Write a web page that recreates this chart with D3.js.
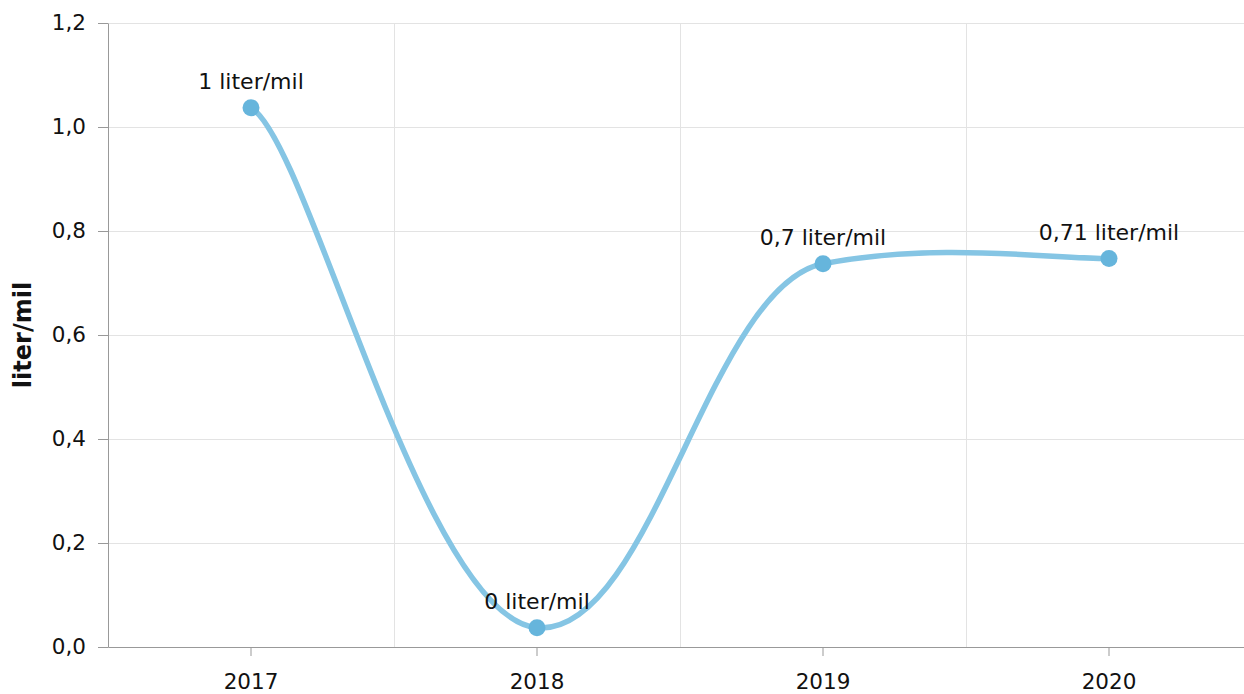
<!DOCTYPE html>
<html>
<head>
<meta charset="utf-8">
<script src="https://cdn.jsdelivr.net/npm/d3@7"></script>
<style>
  html, body { margin: 0; padding: 0; background: #fff; }
  svg { display: block; font-family: "DejaVu Sans", Verdana, sans-serif; }
</style>
</head>
<body>
<svg id="chart" width="1244" height="694"></svg>
<script>
// data
var years = ['2017', '2018', '2019', '2020'];
var values = [1.037, 0.037, 0.737, 0.747];
var pointLabels = ['1 liter/mil', '0 liter/mil', '0,7 liter/mil', '0,71 liter/mil'];
var yTicks = [0, 0.2, 0.4, 0.6, 0.8, 1.0, 1.2];
var yTitle = 'liter/mil';

var margin = { top: 23, right: -8, bottom: 47, left: 108 };
var svg = d3.select('#chart');
var W = +svg.attr('width'), H = +svg.attr('height');
var width = W - margin.left - margin.right;
var height = H - margin.top - margin.bottom;

var x = d3.scaleBand().domain(years).range([0, width]).padding(0);
var y = d3.scaleLinear().domain([0, 1.2]).range([height, 0]);
var fmt = function (d) { return d3.format('.1f')(d).replace('.', ','); };

var g = svg.append('g').attr('transform', 'translate(' + margin.left + ',' + margin.top + ')');

//-------------------------------
// grid
g.append('g').selectAll('line.hgrid')
  .data(yTicks).enter().append('line')
  .attr('class', 'hgrid')
  .attr('x1', 0).attr('x2', width)
  .attr('y1', function (d) { return Math.round(y(d)) + 0.5; })
  .attr('y2', function (d) { return Math.round(y(d)) + 0.5; })
  .style('stroke', '#e3e3e3').style('stroke-width', 1);

g.append('g').selectAll('line.vgrid')
  .data(years.slice(1)).enter().append('line')
  .attr('class', 'vgrid')
  .attr('x1', function (d) { return Math.round(x(d)) + 0.5; })
  .attr('x2', function (d) { return Math.round(x(d)) + 0.5; })
  .attr('y1', 0).attr('y2', height)
  .style('stroke', '#e3e3e3').style('stroke-width', 1);

//-------------------------------
// axes
var yAxis = g.append('g')
  .call(d3.axisLeft(y).tickValues(yTicks).tickFormat(fmt).tickSize(10).tickPadding(12).tickSizeOuter(0));
var xAxis = g.append('g')
  .attr('transform', 'translate(0,' + height + ')')
  .call(d3.axisBottom(x).tickSize(9).tickPadding(18).tickSizeOuter(0));

[yAxis, xAxis].forEach(function (ax) {
  ax.select('.domain').style('stroke', '#999');
  ax.selectAll('.tick line').style('stroke', '#999');
  ax.selectAll('.tick text')
    .style('font-family', '"DejaVu Sans", Verdana, sans-serif')
    .style('font-size', '21.5px').style('fill', '#111');
});

svg.append('text')
  .attr('transform', 'translate(' + 31 + ',' + (margin.top + height / 2) + ') rotate(-90)')
  .attr('text-anchor', 'middle')
  .style('font-size', '24px').style('font-weight', 'bold').style('fill', '#111')
  .text(yTitle);

//-------------------------------
// tension curve, separate x / y tension
var tx = 0.2, ty = 0.06;
function TensionCurve(context) { this._context = context; }
TensionCurve.prototype = {
  areaStart: function () {}, areaEnd: function () {},
  lineStart: function () { this._pts = []; },
  point: function (px, py) { this._pts.push([+px, +py]); },
  lineEnd: function () {
    var p = this._pts, c = this._context, n = p.length;
    c.moveTo(p[0][0], p[0][1]);
    for (var i = 0; i < n - 1; i++) {
      var p0 = p[Math.max(0, i - 1)], p1 = p[i], p2 = p[i + 1], p3 = p[Math.min(n - 1, i + 2)];
      c.bezierCurveTo(
        p1[0] + tx * (p2[0] - p0[0]), p1[1] + ty * (p2[1] - p0[1]),
        p2[0] - tx * (p3[0] - p1[0]), p2[1] - ty * (p3[1] - p1[1]),
        p2[0], p2[1]);
    }
  }
};
var curveTension = function (context) { return new TensionCurve(context); };

var data = years.map(function (yr, i) { return { x: yr, y: values[i], label: pointLabels[i] }; });
var cx = function (d) { return x(d.x) + x.bandwidth() / 2; };
var cy = function (d) { return y(d.y); };

g.append('path')
  .datum(data)
  .attr('d', d3.line().x(cx).y(cy).curve(curveTension))
  .style('fill', 'none').style('stroke', '#85c5e4').style('stroke-width', 5.5)
  .style('stroke-linecap', 'round');

g.selectAll('.dot')
  .data(data).enter().append('circle')
  .attr('class', 'dot')
  .attr('cx', cx).attr('cy', cy).attr('r', 8.5)
  .style('fill', '#66b5dc');

g.selectAll('.lbl')
  .data(data).enter().append('text')
  .attr('class', 'lbl')
  .attr('x', cx).attr('y', function (d) { return cy(d) - 19; })
  .attr('text-anchor', 'middle')
  .style('font-size', '22px').style('fill', '#111')
  .text(function (d) { return d.label; });
</script>
</body>
</html>
